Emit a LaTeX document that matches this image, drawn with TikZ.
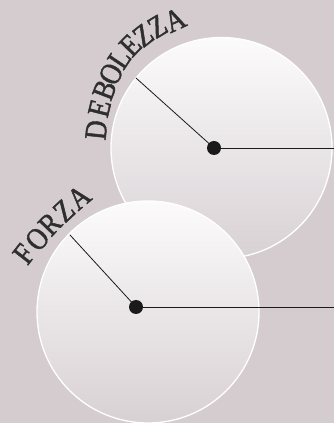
\documentclass[tikz,border=0pt]{standalone}
\usepackage{fontspec}
\setmainfont{Liberation Serif}
\newfontfamily\lblfont[FakeStretch=0.86, FakeBold=1.5]{Liberation Serif}
\usetikzlibrary{calc}
\definecolor{bgc}{HTML}{D4CCCF}
\definecolor{topc}{HTML}{FCFBFC}
\definecolor{botc}{HTML}{D8D1D4}
\definecolor{txtc}{HTML}{2E2E2E}
\definecolor{dotc}{HTML}{1A1A1A}
\tikzset{
  disc/.style={circle, draw=white, line width=1.3pt, top color=topc, bottom color=botc, inner sep=0pt, minimum size=#1},
  hub/.style={circle, fill=dotc, inner sep=0pt, minimum size=14pt},
  conn/.style={draw=dotc, line width=0.8pt},
  glyph/.style={inner sep=0pt, text=txtc, font=\lblfont\fontsize{31}{31}\selectfont, rotate=#1}
}
\begin{document}
\begin{tikzpicture}[x=1pt,y=1pt]
\fill[bgc] (0,0) rectangle (334,423);
\useasboundingbox (0,0) rectangle (334,423);
% top disc
\node[disc=221pt] (c1) at (221.5,275) {};
\coordinate (e1) at (136,345);
\coordinate (r1) at (334,275);
\coordinate (h1) at (214,275);
\draw[conn] (h1) -- (e1);
\draw[conn] (h1) -- (r1);
\node[hub] (d1) at (h1) {};
% bottom disc
\node[disc=222pt] (c2) at (148,111) {};
\coordinate (e2) at (70,188);
\coordinate (r2) at (334,116);
\coordinate (h2) at (136,116);
\draw[conn] (h2) -- (e2);
\draw[conn] (h2) -- (r2);
\node[hub] (d2) at (h2) {};
% label DEBOLEZZA
\foreach \ch/\x/\y/\r [count=\i] in {D/96.3/293/84, E/99.5/314.7/76, B/104.5/333/69, O/111/349/63, L/119.5/364.5/56, E/130.4/377.6/46, Z/143.2/387.6/38, Z/157.5/396.6/31, A/175/403/25}
  \node[glyph=\r] (wk\i) at (\x,\y) {\ch};
% label FORZA
\foreach \ch/\x/\y/\r [count=\i] in {F/24/169/52, O/37.3/184/49, R/50/199/46, Z/64/212.3/43, A/79/225.7/40}
  \node[glyph=\r] (st\i) at (\x,\y) {\ch};
\end{tikzpicture}
\end{document}
